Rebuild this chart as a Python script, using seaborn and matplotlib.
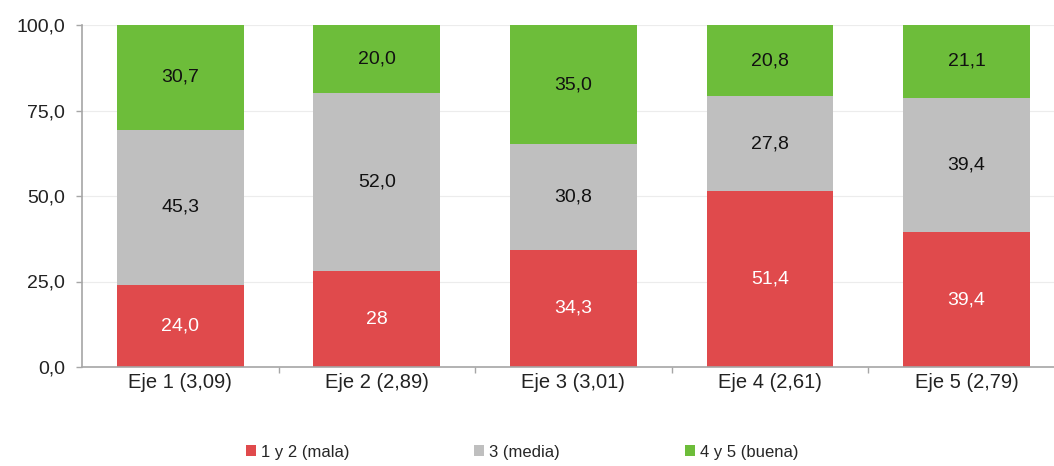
import matplotlib
matplotlib.use("Agg")
import matplotlib.pyplot as plt
import seaborn as sns
import numpy as np
import pandas as pd
from matplotlib.patches import Patch

categories = ["Eje 1 (3,09)", "Eje 2 (2,89)", "Eje 3 (3,01)", "Eje 4 (2,61)", "Eje 5 (2,79)"]
mala = [24.0, 28.0, 34.3, 51.4, 39.4]
media = [45.3, 52.0, 30.8, 27.8, 39.4]
buena = [30.7, 20.0, 35.0, 20.8, 21.1]
mala_labels = ["24,0", "28", "34,3", "51,4", "39,4"]
media_labels = ["45,3", "52,0", "30,8", "27,8", "39,4"]
buena_labels = ["30,7", "20,0", "35,0", "20,8", "21,1"]
series_names = ["1 y 2 (mala)", "3 (media)", "4 y 5 (buena)"]
y_ticks = [0, 25, 50, 75, 100]
y_tick_labels = ["0,0", "25,0", "50,0", "75,0", "100,0"]

c_red = "#e04a4c"
c_gray = "#bfbfbf"
c_green = "#6dbd3a"

sns.set_theme(style="white")
plt.rcParams["font.family"] = ["Liberation Sans", "DejaVu Sans"]

df = pd.DataFrame({"cat": categories, "mala": mala, "media": media, "buena": buena})
df["top2"] = df["mala"] + df["media"]
df["top3"] = df["top2"] + df["buena"]

fig = plt.figure(figsize=(10.54, 4.66), dpi=100)
ax = fig.add_axes([82 / 1054, 1 - 367 / 466, (1054 - 82) / 1054, (367 - 25) / 466])

width = 0.645
bar_kw = dict(width=width, ax=ax, saturation=1, linewidth=0, edgecolor="none")
# stacked bars drawn back-to-front as cumulative totals
sns.barplot(data=df, x="cat", y="top3", color=c_green, **bar_kw)
sns.barplot(data=df, x="cat", y="top2", color=c_gray, **bar_kw)
sns.barplot(data=df, x="cat", y="mala", color=c_red, **bar_kw)

lab_fs = 14
for i in range(len(categories)):
    ax.text(i, mala[i] / 2, mala_labels[i], ha="center", va="center", color="white", fontsize=lab_fs)
    ax.text(i, mala[i] + media[i] / 2, media_labels[i], ha="center", va="center", color="#111111", fontsize=lab_fs)
    ax.text(i, mala[i] + media[i] + buena[i] / 2, buena_labels[i], ha="center", va="center", color="#111111", fontsize=lab_fs)

ax.set_ylim(0, 100)
ax.set_xlim(-0.5, 4.445)
ax.set_yticks(y_ticks)
ax.set_yticklabels(y_tick_labels, fontsize=14, color="#222222")
ax.set_xticks(range(len(categories)))
ax.set_xticklabels(categories, fontsize=14.5, color="#222222")
ax.set_xlabel("")
ax.set_ylabel("")

for y in y_ticks[1:]:
    ax.axhline(y, color="#ececec", lw=0.8, zorder=0)

for s in ["top", "right"]:
    ax.spines[s].set_visible(False)
ax.spines["left"].set_color("#a6a6a6")
ax.spines["bottom"].set_color("#a6a6a6")
ax.spines["left"].set_linewidth(1.2)
ax.spines["bottom"].set_linewidth(1.2)

ax.tick_params(axis="y", which="major", left=True, length=4, width=1.0, color="#a6a6a6", pad=8)
ax.tick_params(axis="x", which="major", bottom=False, length=0, pad=4)
ax.set_xticks([0.5, 1.5, 2.5, 3.5], minor=True)
ax.tick_params(axis="x", which="minor", bottom=True, length=4, width=1.0, color="#a6a6a6")

handles = [Patch(facecolor=c, edgecolor="none") for c in [c_red, c_gray, c_green]]
fig.legend(handles, series_names, loc="center", bbox_to_anchor=(522 / 1054, 1 - 452 / 466),
           ncol=3, frameon=False, fontsize=12, handlelength=0.6, handleheight=0.6,
           handletextpad=0.3, columnspacing=7.5)

fig.savefig("out.png", dpi=100)
